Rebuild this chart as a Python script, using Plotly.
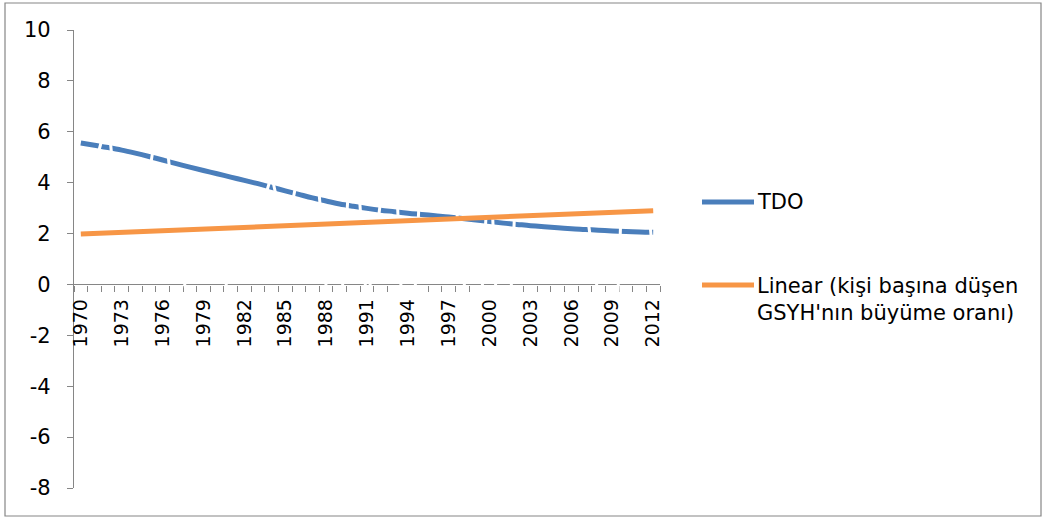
import plotly.graph_objects as go

years = list(range(1970, 2013))
tdo = [5.56, 5.47, 5.38, 5.28, 5.16, 5.03, 4.89, 4.75, 4.61, 4.48, 4.35, 4.22, 4.09, 3.96, 3.82,
       3.68, 3.54, 3.40, 3.28, 3.16, 3.07, 2.99, 2.92, 2.86, 2.80, 2.75, 2.70, 2.65, 2.59, 2.53,
       2.47, 2.41, 2.36, 2.31, 2.27, 2.23, 2.19, 2.16, 2.13, 2.10, 2.08, 2.06, 2.05]
gdp_growth = [0.7, 4.6, 6.6, 0.8, 0.8, 4.3, 7.6, 1.5, -0.9, -2.6, -4.9, 2.4, 1.1, 2.5, 4.3,
              1.8, 4.5, 7.1, -0.1, -1.9, 7.0, -1.0, 3.3, 6.2, -6.6, 5.4, 5.5, 5.8, 0.8, -4.8,
              5.4, -7.0, 4.8, 4.2, 8.0, 7.0, 5.6, 3.4, -0.6, -6.0, 7.7, 7.4, 0.9]
trend_years = [1970, 2012]
trend_vals = [1.98, 2.90]
label_years = years[::3]
y_ticks = list(range(-8, 11, 2))

BLUE = "#4a7ebb"
ORANGE = "#f79646"
GRID = "#868686"
FONT = "DejaVu Sans"

fig = go.Figure()
fig.add_trace(go.Scatter(x=years, y=tdo, mode="lines", name="TDO",
                         line=dict(color=BLUE, width=5, shape="spline"), showlegend=False))
fig.add_trace(go.Scatter(x=years, y=gdp_growth, mode="lines",
                         name="kişi başına düşen GSYH'nın büyüme oranı",
                         line=dict(color="white", width=3), showlegend=False))
fig.add_trace(go.Scatter(x=trend_years, y=trend_vals, mode="lines",
                         name="Linear (kişi başına düşen GSYH'nın büyüme oranı)",
                         line=dict(color=ORANGE, width=5), showlegend=False))

L, R, T, B = 74, 386, 30, 34
W, H = 1046, 522
pw, ph = W - L - R, H - T - B

def px_x(px):
    return (px - L) / pw

def px_y(py):
    return (H - B - py) / ph

ymin, ymax = -8, 10
zero_pos = (0 - ymin) / (ymax - ymin)
xr = [1969.5, 2012.5]

fig.update_layout(
    width=W, height=H,
    margin=dict(l=L, r=R, t=T, b=B, autoexpand=False),
    paper_bgcolor="white", plot_bgcolor="white",
    font=dict(family=FONT, size=19, color="black"),
    xaxis=dict(
        range=xr, showticklabels=False, ticks="", showgrid=False, zeroline=False,
        showline=True, linecolor=GRID, linewidth=1.2, automargin=False,
        anchor="free", position=zero_pos, layer="below traces",
        tickmode="array", tickvals=label_years,
        minor=dict(tickmode="array", tickvals=[y - 0.5 for y in years] + [2012.5],
                   ticks="outside", ticklen=6, tickcolor=GRID, tickwidth=1.2, showgrid=False),
    ),
    xaxis2=dict(
        range=xr, overlaying="x", matches="x", anchor="free", position=zero_pos,
        tickmode="array", tickvals=label_years, ticktext=[str(y) for y in label_years],
        tickangle=-90, ticks="outside", ticklen=6, tickcolor="rgba(0,0,0,0)",
        showgrid=False, zeroline=False, showline=False, automargin=False,
        tickfont=dict(size=19), layer="above traces",
    ),
    yaxis=dict(
        range=[ymin, ymax], tickmode="array", tickvals=y_ticks,
        ticktext=[str(v) for v in y_ticks],
        ticks="outside", ticklen=6, tickcolor=GRID, tickwidth=1.2, automargin=False,
        showgrid=False, zeroline=False, showline=True, linecolor=GRID, linewidth=1.2,
        ticklabelstandoff=12, tickfont=dict(size=21), layer="below traces",
    ),
)
# dummy trace to activate xaxis2
fig.add_trace(go.Scatter(x=[years[0]], y=[None], xaxis="x2", mode="lines",
                         showlegend=False, hoverinfo="skip"))

# outer chart border
fig.add_shape(type="rect", xref="paper", yref="paper",
              x0=px_x(5), x1=px_x(1041), y0=px_y(516), y1=px_y(3),
              line=dict(color=GRID, width=1.2), fillcolor="rgba(0,0,0,0)", layer="below")

# manual legend
fig.add_shape(type="line", xref="paper", yref="paper",
              x0=px_x(702), x1=px_x(754), y0=px_y(202), y1=px_y(202),
              line=dict(color=BLUE, width=5))
fig.add_annotation(xref="paper", yref="paper", x=px_x(755), y=px_y(202),
                   text="TDO", showarrow=False, xanchor="left", yanchor="middle",
                   font=dict(size=21))
fig.add_shape(type="line", xref="paper", yref="paper",
              x0=px_x(702), x1=px_x(754), y0=px_y(285), y1=px_y(285),
              line=dict(color=ORANGE, width=5))
fig.add_annotation(xref="paper", yref="paper", x=px_x(755), y=px_y(300),
                   text="Linear (kişi başına düşen<br>GSYH'nın büyüme oranı)",
                   showarrow=False, xanchor="left", yanchor="middle", align="left",
                   font=dict(size=21))

fig.write_html("out.html", config={"displayModeBar": False},
               post_script="document.body.style.margin='0';document.body.style.overflow='hidden';")
